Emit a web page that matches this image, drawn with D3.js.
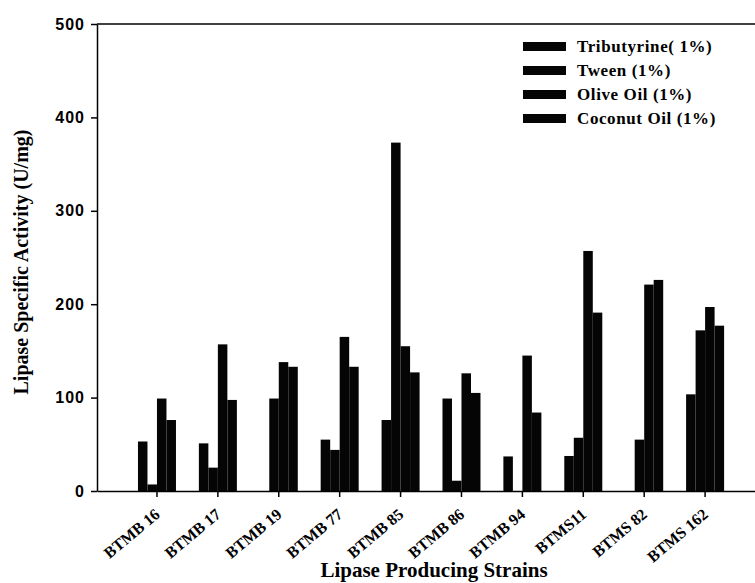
<!DOCTYPE html>
<html>
<head>
<meta charset="utf-8">
<script src="https://cdn.jsdelivr.net/npm/d3@7"></script>
<style>
  html, body { margin: 0; padding: 0; background: #fff; }
  svg { display: block; }
  .serif { font-family: "Liberation Serif", "Times New Roman", serif; font-weight: bold; }
  .sans { font-family: "Liberation Sans", Arial, sans-serif; }
</style>
</head>
<body>
<svg id="chart" width="755" height="583"></svg>
<script>
// Lipase specific activity (U/mg) of each strain on four substrates
const strains = ["BTMB 16", "BTMB 17", "BTMB 19", "BTMB 77", "BTMB 85",
                 "BTMB 86", "BTMB 94", "BTMS11", "BTMS 82", "BTMS 162"];
const substrates = ["Tributyrine( 1%)", "Tween (1%)", "Olive Oil (1%)", "Coconut Oil (1%)"];
const tributyrine = [53, 51, 0, 55, 76, 99, 37, 37.5, 0, 103.5];
const tween       = [7, 25, 99, 44, 373, 11, 0, 57, 55, 172];
const oliveOil    = [99, 157, 138, 165, 155, 126, 145, 257, 221, 197];
const coconutOil  = [76, 97.5, 133, 133, 127, 105, 84, 191, 226, 177];
const yTicks = [0, 100, 200, 300, 400, 500];

const seriesValues = [tributyrine, tween, oliveOil, coconutOil];
const rows = strains.map((s, i) => ({
  strain: s,
  values: substrates.map((k, j) => ({ key: k, value: seriesValues[j][i] }))
}));

const svg = d3.select("#chart");
const plotLeft = 97, plotRight = 755, plotTop = 24, plotBottom = 491;

const x = d3.scaleBand()
  .domain(strains)
  .range([plotLeft, plotRight])
  .paddingInner(0.376)
  .paddingOuter(0.59)
  .align(0.57);

const xSub = d3.scaleBand()
  .domain(substrates)
  .range([0, x.bandwidth()])
  .padding(0);

const y = d3.scaleLinear().domain([0, 500]).range([plotBottom, plotTop]);

const color = d3.scaleOrdinal().domain(substrates)
  .range(["#050505", "#050505", "#050505", "#050505"]);

// bars
const groups = svg.append("g").selectAll("g")
  .data(rows)
  .join("g")
  .attr("transform", d => `translate(${x(d.strain)},0)`);

groups.selectAll("rect")
  .data(d => d.values)
  .join("rect")
  .attr("x", d => xSub(d.key))
  .attr("y", d => y(d.value))
  .attr("width", xSub.bandwidth())
  .attr("height", d => y(0) - y(d.value))
  .attr("fill", d => color(d.key));

// top frame line
svg.append("line")
  .attr("x1", plotLeft).attr("x2", plotRight)
  .attr("y1", plotTop).attr("y2", plotTop)
  .attr("stroke", "#000").attr("stroke-width", 1.5);

// y axis
const yAxis = svg.append("g")
  .attr("transform", `translate(${plotLeft},0)`)
  .call(d3.axisLeft(y).tickValues(yTicks).tickSize(6).tickSizeOuter(0).tickPadding(6));
yAxis.selectAll("path, line").attr("stroke", "#000").attr("stroke-width", 1.5);
yAxis.selectAll("text")
  .attr("class", "sans")
  .attr("font-size", 16)
  .attr("font-weight", "bold")
  .attr("letter-spacing", 1)
  .attr("fill", "#000");

// x axis
const xAxis = svg.append("g")
  .attr("transform", `translate(0,${plotBottom})`)
  .call(d3.axisBottom(x).tickSize(6).tickSizeOuter(0));
xAxis.selectAll("path, line").attr("stroke", "#000").attr("stroke-width", 1.5);
xAxis.selectAll("text")
  .attr("class", "serif")
  .attr("font-size", 16)
  .attr("fill", "#000")
  .attr("text-anchor", "end")
  .attr("x", 0).attr("y", 0).attr("dy", 0)
  .attr("transform", "translate(4,25) rotate(-40)");

// axis titles
svg.append("text")
  .attr("class", "serif")
  .attr("font-size", 20)
  .attr("text-anchor", "middle")
  .attr("transform", "translate(28,262) rotate(-90)")
  .text("Lipase Specific Activity (U/mg)");

svg.append("text")
  .attr("class", "serif")
  .attr("font-size", 21)
  .attr("text-anchor", "middle")
  .attr("x", 434).attr("y", 577)
  .text("Lipase Producing Strains");

// legend
const legend = svg.append("g").attr("transform", "translate(523,42)");
const items = legend.selectAll("g")
  .data(substrates)
  .join("g")
  .attr("transform", (d, i) => `translate(0,${i * 24})`);
items.append("rect")
  .attr("width", 43).attr("height", 9)
  .attr("fill", d => color(d));
items.append("text")
  .attr("class", "serif")
  .attr("font-size", 17)
  .attr("letter-spacing", 0.6)
  .attr("x", 54).attr("y", 10)
  .attr("fill", "#000")
  .text(d => d);
</script>
</body>
</html>
